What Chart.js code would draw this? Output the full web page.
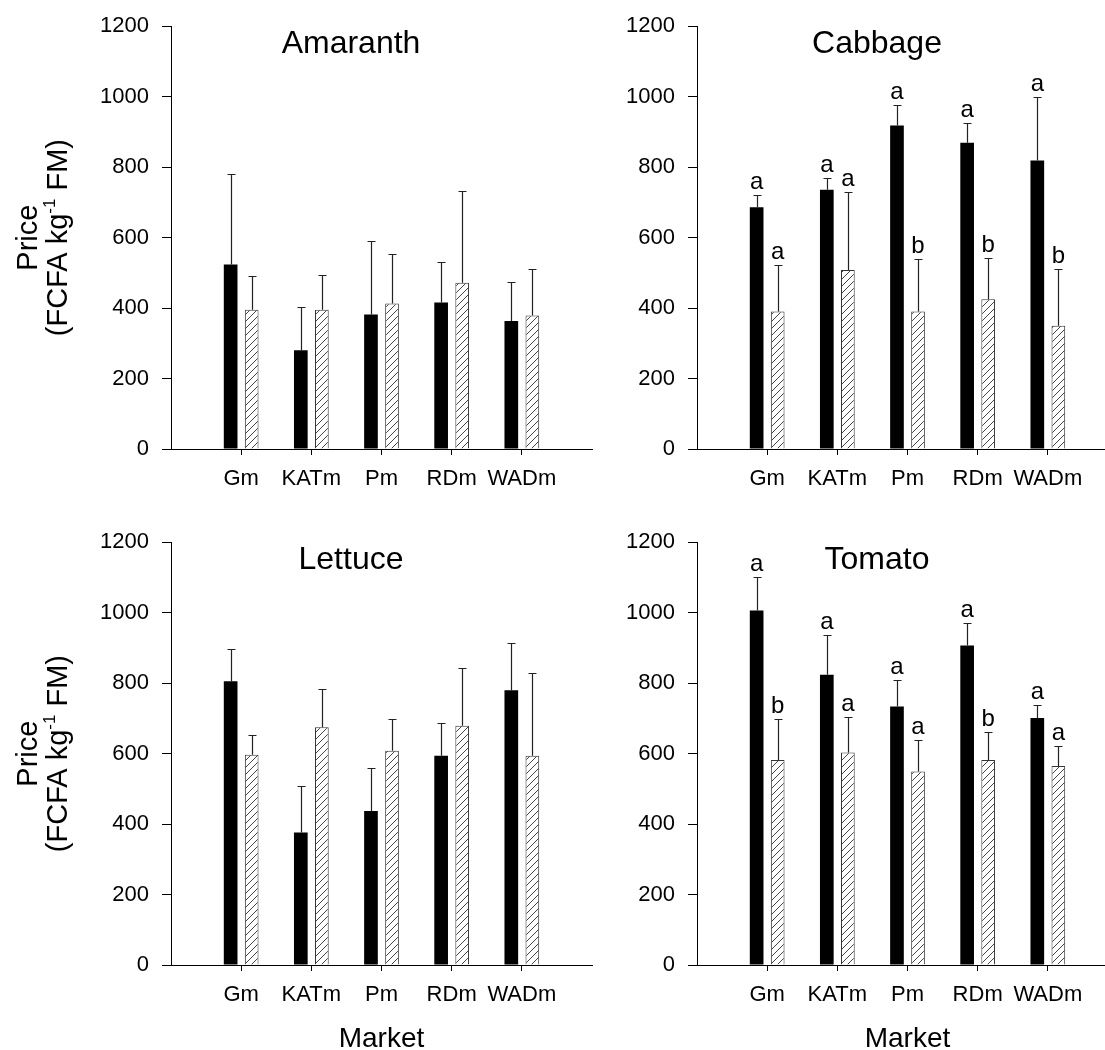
<!DOCTYPE html>
<html>
<head>
<title>Vegetable prices by market</title>
<script src="https://cdn.jsdelivr.net/npm/chart.js"></script>
<style>
  html, body { margin: 0; padding: 0; background: #fff; overflow: hidden; }
  body { position: relative; width: 1105px; height: 1050px; }
  canvas { position: absolute; }
</style>
</head>
<body>
<canvas id="amaranth" width="620" height="534" style="left:0;top:0"></canvas>
<canvas id="cabbage" width="620" height="534" style="left:526px;top:0"></canvas>
<canvas id="lettuce" width="620" height="534" style="left:0;top:516px"></canvas>
<canvas id="tomato" width="620" height="534" style="left:526px;top:516px"></canvas>
<script>
var markets = ['Gm', 'KATm', 'Pm', 'RDm', 'WADm'];
var yTicks = [0, 200, 400, 600, 800, 1000, 1200];

// mean price and standard deviation, solid bars then hatched bars
var amaranthSolid = [524, 280, 382, 416, 363];
var amaranthSolidSd = [257, 122, 209, 116, 111];
var amaranthHatch = [395, 395, 413, 472, 379];
var amaranthHatchSd = [97, 99, 141, 260, 132];

var cabbageSolid = [686, 736, 918, 869, 819];
var cabbageSolidSd = [35, 33, 59, 57, 180];
var cabbageHatch = [390, 508, 390, 425, 350];
var cabbageHatchSd = [133, 221, 148, 118, 161];
var cabbageSolidLetters = ['a', 'a', 'a', 'a', 'a'];
var cabbageHatchLetters = ['a', 'a', 'b', 'b', 'b'];

var lettuceSolid = [805, 376, 437, 594, 780];
var lettuceSolidSd = [93, 133, 122, 93, 135];
var lettuceHatch = [597, 675, 608, 679, 594];
var lettuceHatchSd = [55, 108, 90, 164, 235];

var tomatoSolid = [1006, 824, 734, 907, 701];
var tomatoSolidSd = [94, 114, 76, 63, 37];
var tomatoHatch = [582, 603, 549, 582, 565];
var tomatoHatchSd = [116, 100, 91, 79, 57];
var tomatoSolidLetters = ['a', 'a', 'a', 'a', 'a'];
var tomatoHatchLetters = ['b', 'a', 'a', 'b', 'a'];

var FONT = '"Liberation Sans", Arial, sans-serif';

function hatchPattern(ctx) {
  var c = document.createElement('canvas');
  c.width = 7; c.height = 7;
  var g = c.getContext('2d');
  g.fillStyle = '#fff';
  g.fillRect(0, 0, 7, 7);
  g.strokeStyle = '#444';
  g.lineWidth = 1;
  [0, 7, 14].forEach(function (k) {
    g.beginPath();
    g.moveTo(-1, k + 1);
    g.lineTo(k + 1, -1);
    g.stroke();
  });
  return ctx.createPattern(c, 'repeat');
}

// error bars with caps, plus significance letters above them
var errorBars = {
  id: 'errorBars',
  afterDatasetsDraw: function (chart) {
    var ctx = chart.ctx, ys = chart.scales.y;
    ctx.save();
    ctx.strokeStyle = '#222';
    ctx.lineWidth = 1.2;
    ctx.fillStyle = '#000';
    ctx.font = '24px ' + FONT;
    ctx.textAlign = 'center';
    ctx.textBaseline = 'alphabetic';
    chart.data.datasets.forEach(function (ds, i) {
      chart.getDatasetMeta(i).data.forEach(function (bar, j) {
        var x = Math.round(bar.x) + 0.5;
        var top = Math.round(ys.getPixelForValue(ds.data[j].y + ds.sd[j])) + 0.5;
        ctx.beginPath();
        ctx.moveTo(x, bar.y);
        ctx.lineTo(x, top);
        ctx.moveTo(x - 4, top);
        ctx.lineTo(x + 4, top);
        ctx.stroke();
        if (ds.letters) ctx.fillText(ds.letters[j], bar.x, top - 7);
      });
    });
    ctx.restore();
  }
};

// panel name, y-axis title and x-axis title
var panelText = {
  id: 'panelText',
  afterDraw: function (chart, args, opts) {
    var ctx = chart.ctx, a = chart.chartArea;
    ctx.save();
    ctx.fillStyle = '#000';
    ctx.textAlign = 'center';
    ctx.textBaseline = 'alphabetic';
    ctx.font = '32px ' + FONT;
    ctx.fillText(opts.title, a.left + 180, a.top + 27);
    if (opts.market) {
      ctx.font = '28px ' + FONT;
      ctx.fillText('Market', chart.scales.x.getPixelForValue(3), a.bottom + 82);
    }
    if (opts.price) {
      var cy = (a.top + a.bottom) / 2;
      var big = '29px ' + FONT, small = '17px ' + FONT;
      ctx.save();
      ctx.translate(37, cy);
      ctx.rotate(-Math.PI / 2);
      ctx.font = big;
      ctx.fillText('Price', 0, 0);
      ctx.restore();

      ctx.save();
      ctx.translate(67, cy);
      ctx.rotate(-Math.PI / 2);
      ctx.textAlign = 'left';
      ctx.font = big;
      var w1 = ctx.measureText('(FCFA kg').width;
      var w3 = ctx.measureText(' FM)').width;
      ctx.font = small;
      var w2 = ctx.measureText('-1').width;
      var x0 = -(w1 + w2 + w3) / 2;
      ctx.font = big;
      ctx.fillText('(FCFA kg', x0, 0);
      ctx.font = small;
      ctx.fillText('-1', x0 + w1, -12);
      ctx.font = big;
      ctx.fillText(' FM)', x0 + w1 + w2, 0);
      ctx.restore();
    }
    ctx.restore();
  }
};

function points(values) {
  return values.map(function (v, i) { return { x: i + 1, y: v }; });
}

function makePanel(id, title, solid, solidSd, hatch, hatchSd, solidLetters, hatchLetters, price, market) {
  var canvas = document.getElementById(id);
  var ctx = canvas.getContext('2d');
  return new Chart(ctx, {
    type: 'bar',
    data: {
      datasets: [
        {
          data: points(solid), sd: solidSd, letters: solidLetters,
          backgroundColor: '#000', borderWidth: 0
        },
        {
          data: points(hatch), sd: hatchSd, letters: hatchLetters,
          backgroundColor: hatchPattern(ctx), borderColor: '#333', borderWidth: 1
        }
      ]
    },
    options: {
      responsive: false,
      animation: false,
      events: [],
      devicePixelRatio: 1,
      categoryPercentage: 0.6,
      barPercentage: 0.65,
      layout: { padding: { top: 25, right: 28, left: 0, bottom: 0 } },
      plugins: {
        legend: { display: false },
        tooltip: { enabled: false },
        panelText: { title: title, price: price, market: market }
      },
      scales: {
        x: {
          type: 'linear',
          min: 0,
          max: 6,
          offset: false,
          afterBuildTicks: function (s) {
            s.ticks = markets.map(function (m, i) { return { value: i + 1 }; });
          },
          afterFit: function (s) { s.height = 85; },
          ticks: {
            autoSkip: false,
            maxRotation: 0,
            padding: 11,
            color: '#000',
            font: { size: 22, family: FONT },
            callback: function (v) { return markets[v - 1]; }
          },
          grid: { offset: false, drawOnChartArea: false, tickLength: 6, color: '#000' },
          border: { color: '#000', width: 1 }
        },
        y: {
          min: 0,
          max: 1200,
          afterBuildTicks: function (s) {
            s.ticks = yTicks.map(function (v) { return { value: v }; });
          },
          afterFit: function (s) { s.width = 171; },
          ticks: {
            padding: 13,
            color: '#000',
            font: { size: 22, family: FONT },
            callback: function (v) { return String(v); }
          },
          grid: { drawOnChartArea: false, tickLength: 9, color: '#000' },
          border: { color: '#000', width: 1 }
        }
      }
    },
    plugins: [errorBars, panelText]
  });
}

makePanel('amaranth', 'Amaranth', amaranthSolid, amaranthSolidSd, amaranthHatch, amaranthHatchSd, null, null, true, false);
makePanel('cabbage', 'Cabbage', cabbageSolid, cabbageSolidSd, cabbageHatch, cabbageHatchSd, cabbageSolidLetters, cabbageHatchLetters, false, false);
makePanel('lettuce', 'Lettuce', lettuceSolid, lettuceSolidSd, lettuceHatch, lettuceHatchSd, null, null, true, true);
makePanel('tomato', 'Tomato', tomatoSolid, tomatoSolidSd, tomatoHatch, tomatoHatchSd, tomatoSolidLetters, tomatoHatchLetters, false, true);
</script>
</body>
</html>
